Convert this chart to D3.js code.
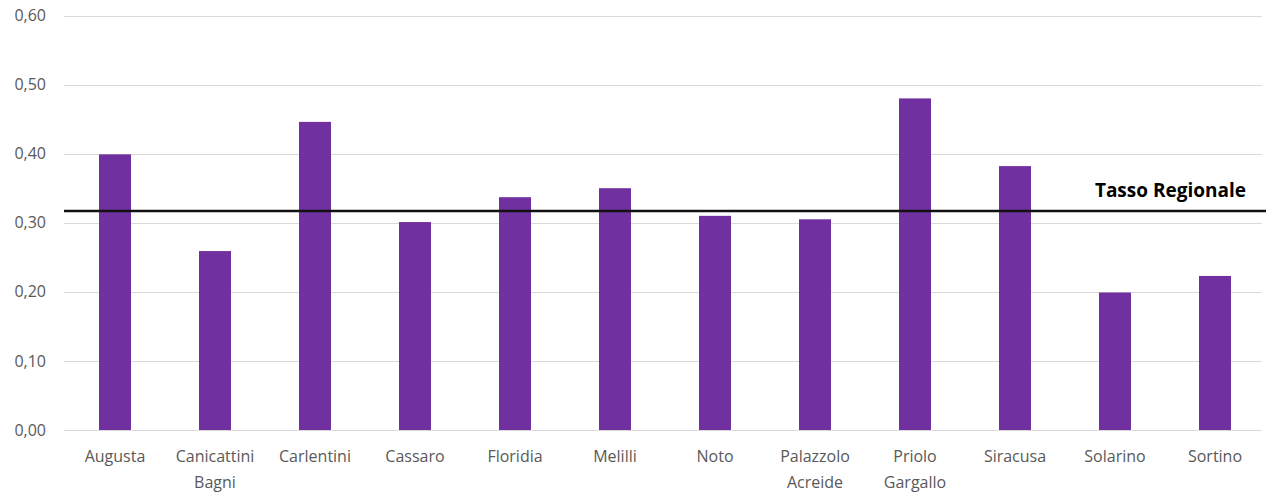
<!DOCTYPE html>
<html>
<head>
<meta charset="utf-8">
<script src="https://cdn.jsdelivr.net/npm/d3@7"></script>
<style>
  html, body { margin: 0; padding: 0; background: #fff; }
  svg { display: block; }
  text { font-family: "Open Sans", "Noto Sans", sans-serif; }
</style>
</head>
<body>
<svg id="chart" width="1266" height="493"></svg>
<script>
// Comuni della provincia di Siracusa
const comuni = [
  "Augusta", "Canicattini Bagni", "Carlentini", "Cassaro", "Floridia", "Melilli",
  "Noto", "Palazzolo Acreide", "Priolo Gargallo", "Siracusa", "Solarino", "Sortino"
];
// Tasso per comune
const tassi = [0.399, 0.259, 0.446, 0.301, 0.337, 0.350, 0.310, 0.305, 0.480, 0.382, 0.199, 0.223];
// Tasso regionale di riferimento
const tassoRegionale = 0.317;
const yTicks = [0, 0.1, 0.2, 0.3, 0.4, 0.5, 0.6];

const svg = d3.select("#chart");
const plotLeft = 64, plotRight = 1264, plotTop = 15.5, plotBottom = 430;

const x = d3.scaleBand().domain(comuni).range([plotLeft + 1, plotRight + 1]).paddingInner(0.68).paddingOuter(0.34);
const y = d3.scaleLinear().domain([0, 0.6]).range([plotBottom, plotTop]);
const fmt = v => d3.format(".2f")(v).replace(".", ",");

// Griglia orizzontale
svg.append("g")
  .selectAll("line")
  .data(yTicks)
  .join("line")
  .attr("x1", plotLeft).attr("x2", 1262)
  .attr("y1", d => Math.round(y(d)) + 0.5).attr("y2", d => Math.round(y(d)) + 0.5)
  .attr("stroke", "#d9d9d9").attr("stroke-width", 1);

// Etichette asse Y
const yAxis = d3.axisLeft(y).tickValues(yTicks).tickFormat(fmt).tickSize(0).tickPadding(0);
const gy = svg.append("g").attr("transform", "translate(46,0)").call(yAxis);
gy.select(".domain").remove();
gy.selectAll("text")
  .attr("fill", "#595959")
  .style("font-size", "16px")
  .style("font-family", "'Open Sans', 'Noto Sans', sans-serif");

// Barre
svg.append("g")
  .selectAll("rect")
  .data(comuni.map((c, i) => ({ c, v: tassi[i] })))
  .join("rect")
  .attr("x", d => x(d.c))
  .attr("width", x.bandwidth())
  .attr("y", d => y(d.v))
  .attr("height", d => y(0) - y(d.v))
  .attr("fill", "#7030A0");

// Etichette asse X (a capo sugli spazi)
const gx = svg.append("g");
comuni.forEach(c => {
  const parts = c.split(" ");
  const t = gx.append("text")
    .attr("x", x(c) + x.bandwidth() / 2)
    .attr("y", 462)
    .attr("text-anchor", "middle")
    .attr("fill", "#595959")
    .style("font-size", "16px");
  parts.forEach((p, i) => {
    t.append("tspan")
      .attr("x", x(c) + x.bandwidth() / 2)
      .attr("dy", i === 0 ? 0 : 26)
      .text(p);
  });
});

// Linea del tasso regionale
svg.append("line")
  .attr("x1", plotLeft).attr("x2", 1266)
  .attr("y1", y(tassoRegionale)).attr("y2", y(tassoRegionale))
  .attr("stroke", "#111").attr("stroke-width", 2.5);

svg.append("text")
  .attr("x", 1246)
  .attr("y", 197)
  .attr("text-anchor", "end")
  .attr("fill", "#000")
  .style("font-size", "19px")
  .style("font-weight", "bold")
  .text("Tasso Regionale");
</script>
</body>
</html>
